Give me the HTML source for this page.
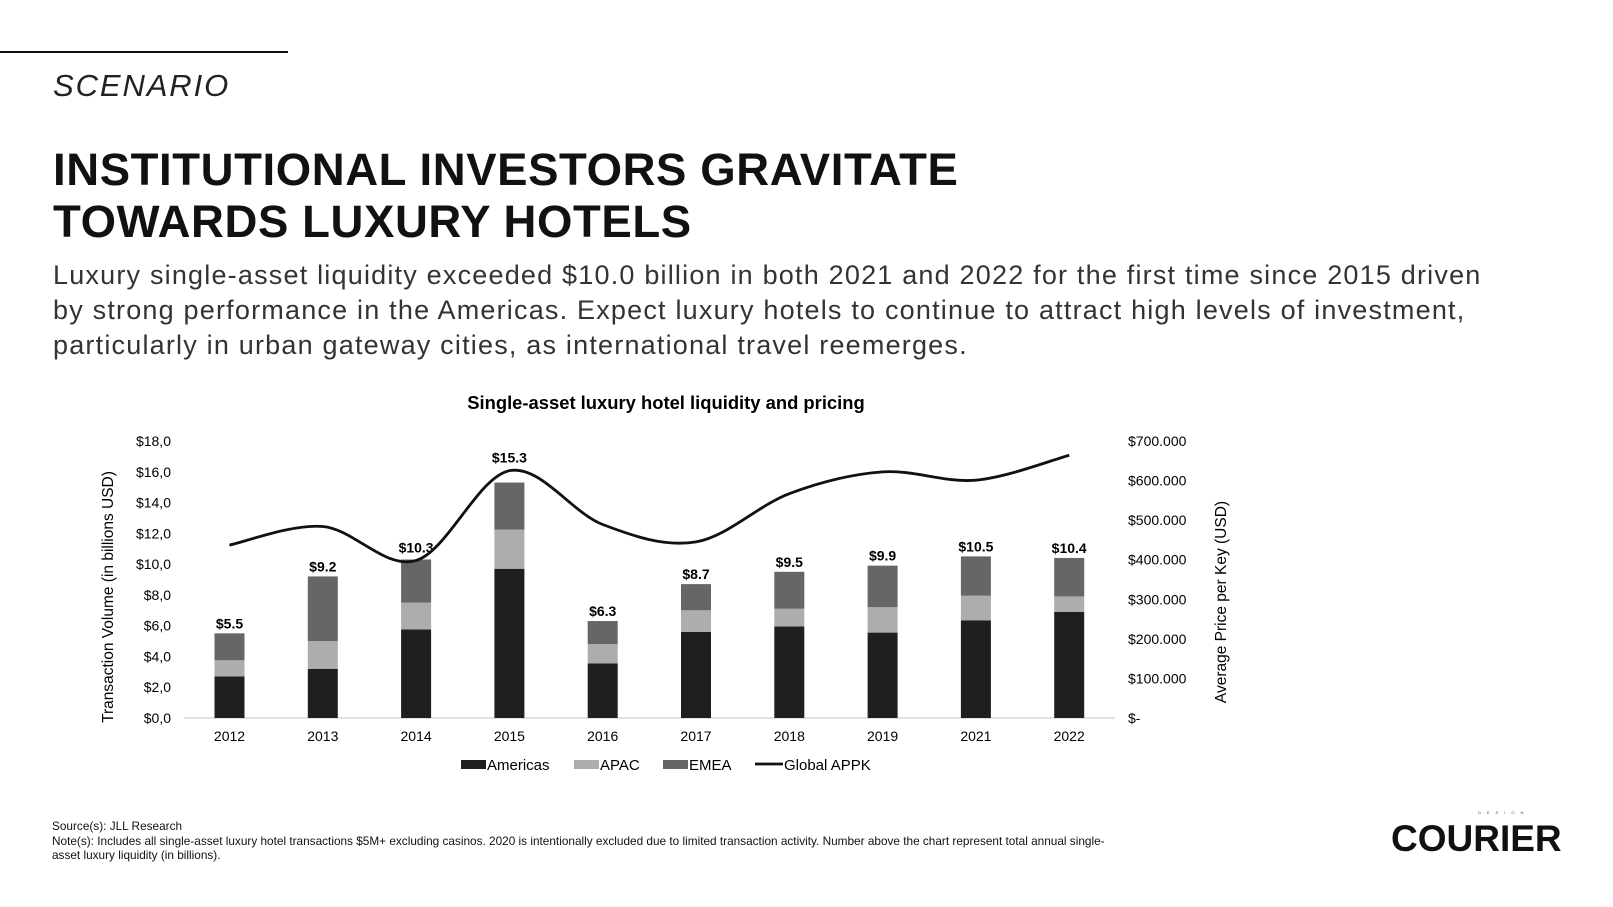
<!DOCTYPE html>
<html><head><meta charset="utf-8"><style>
body{margin:0;width:1613px;height:907px;background:#fff;position:relative;overflow:hidden;font-family:"Liberation Sans",sans-serif;color:#111}
.a{position:absolute;white-space:nowrap}
</style></head><body>
<div class="a" style="left:0;top:51px;width:288px;height:2px;background:#111"></div>
<div class="a" style="left:53px;top:68px;font-size:31px;font-style:italic;letter-spacing:1.9px;color:#222">SCENARIO</div>
<div class="a" style="left:53px;top:144px;font-size:45.5px;font-weight:bold;line-height:52px;letter-spacing:0.6px;color:#111">INSTITUTIONAL INVESTORS GRAVITATE<br>TOWARDS LUXURY HOTELS</div>
<div class="a" style="left:53px;top:258px;font-size:27px;line-height:35px;letter-spacing:1.2px;color:#333">Luxury single-asset liquidity exceeded $10.0 billion in both 2021 and 2022 for the first time since 2015 driven<br>by strong performance in the Americas. Expect luxury hotels to continue to attract high levels of investment,<br>particularly in urban gateway cities, as international travel reemerges.</div>
<svg class="a" style="left:0;top:0" width="1613" height="907">
<text x="666" y="409" text-anchor="middle" font-size="18.4" font-weight="bold" font-family="Liberation Sans">Single-asset luxury hotel liquidity and pricing</text>
<g id="g"></g>
<text transform="translate(113,597) rotate(-90)" text-anchor="middle" font-size="15.5" font-family="Liberation Sans">Transaction Volume (in billions USD)</text>
<text transform="translate(1226,602) rotate(-90)" text-anchor="middle" font-size="15.5" font-family="Liberation Sans">Average Price per Key (USD)</text>
</svg>
<div class="a" style="left:52px;top:819px;font-size:11.8px;line-height:14.5px;color:#111">Source(s): JLL Research<br>Note(s): Includes all single-asset luxury hotel transactions $5M+ excluding casinos. 2020 is intentionally excluded due to limited transaction activity. Number above the chart represent total annual single-<br>asset luxury liquidity (in billions).</div>
<div class="a" style="left:1478px;top:810px;font-size:4px;letter-spacing:6px;color:#555">DESIGN</div>
<div class="a" style="left:1391px;top:818px;font-size:37px;font-weight:bold;letter-spacing:0px;color:#111">COURIER</div>
<script>
const years=['2012','2013','2014','2015','2016','2017','2018','2019','2021','2022'];
const americas=[2.7,3.2,5.75,9.7,3.55,5.6,5.95,5.55,6.35,6.9];
const apac=[1.05,1.8,1.75,2.55,1.25,1.4,1.15,1.65,1.6,1.0];
const emea=[1.75,4.2,2.8,3.05,1.5,1.7,2.4,2.7,2.55,2.5];
const totals=['$5.5','$9.2','$10.3','$15.3','$6.3','$8.7','$9.5','$9.9','$10.5','$10.4'];
const appk=[437000,484000,398000,625000,489000,445000,567000,622000,601000,664000];
const leftTicks=['$0,0','$2,0','$4,0','$6,0','$8,0','$10,0','$12,0','$14,0','$16,0','$18,0'];
const rightTicks=['$-','$100.000','$200.000','$300.000','$400.000','$500.000','$600.000','$700.000'];
const NS='http://www.w3.org/2000/svg',g=document.getElementById('g');
const Y0=718,Y1=441;
const yL=v=>Y0-v/18*(Y0-Y1), yR=v=>Y0-v/700000*(Y0-Y1), xC=i=>229.5+i*93.3, BW=30;
function mk(t,a,txt){const e=document.createElementNS(NS,t);for(const k in a)e.setAttribute(k,a[k]);if(txt!=null)e.textContent=txt;g.appendChild(e);return e;}
leftTicks.forEach((t,i)=>{const e=mk('text',{x:171,y:yL(i*2)+5,'text-anchor':'end','font-size':14,'font-family':'Liberation Sans'},t);

});
rightTicks.forEach((t,i)=>{const e=mk('text',{x:1128,y:yR(i*100000)+5,'font-size':14,'font-family':'Liberation Sans'},t);

});
const ax=mk('line',{x1:184,x2:1115,y1:Y0,y2:Y0,stroke:'#d9d9d9','stroke-width':1.5});


years.forEach((y,i)=>{
 const x=xC(i)-BW/2;let base=0;
 [[americas,'#1f1f1f','americas'],[apac,'#adadad','apac'],[emea,'#666666','emea']].forEach(([arr,c,n])=>{
  const r=mk('rect',{x:x,y:yL(base+arr[i]),width:BW,height:yL(base)-yL(base+arr[i]),fill:c});
  
  
  base+=arr[i];});
 const lineY=yR(appk[i]);
 let ly=yL(base)-5;
 if(Math.abs(ly-6-lineY)<14) ly=lineY-8;
 const l=mk('text',{x:xC(i),y:ly,'text-anchor':'middle','font-size':14,'font-weight':'bold','font-family':'Liberation Sans'},totals[i]);
 
 
 const xl=mk('text',{x:xC(i),y:741,'text-anchor':'middle','font-size':14,'font-family':'Liberation Sans'},y);
 
 
});
const P=appk.map((v,i)=>[xC(i),yR(v)]);
let d='M'+P[0][0]+','+P[0][1];
for(let i=0;i<P.length-1;i++){const p0=P[Math.max(i-1,0)],p1=P[i],p2=P[i+1],p3=P[Math.min(i+2,P.length-1)];
 d+=` C${p1[0]+(p2[0]-p0[0])/6},${p1[1]+(p2[1]-p0[1])/6} ${p2[0]-(p3[0]-p1[0])/6},${p2[1]-(p3[1]-p1[1])/6} ${p2[0]},${p2[1]}`;}
const ln=mk('path',{d:d,fill:'none',stroke:'#111','stroke-width':2.8});


const leg=[['Americas','#1f1f1f',461,'rect'],['APAC','#adadad',574,'rect'],['EMEA','#666666',663,'rect'],['Global APPK','#111',755,'line']];
leg.forEach(([t,c,x,k])=>{
 const s=k==='rect'?mk('rect',{x:x,y:760,width:25,height:9,fill:c}):mk('line',{x1:x,x2:x+28,y1:764,y2:764,stroke:c,'stroke-width':2.8});
 
 
 const e=mk('text',{x:x+26+(k==='line'?3:0),y:770,'font-size':15,'font-family':'Liberation Sans'},t);
 
 
});
</script>
</body></html>
